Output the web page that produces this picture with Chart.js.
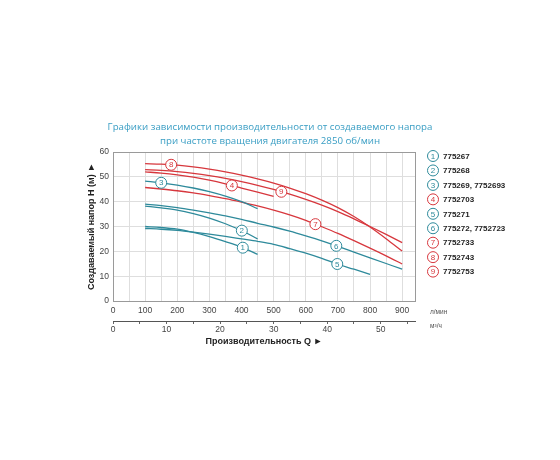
<!DOCTYPE html>
<html>
<head>
<meta charset="utf-8">
<script src="https://cdn.jsdelivr.net/npm/chart.js@4"></script>
<style>
  body { margin: 0; background: #fff; }
  #grafica { display: block; }
</style>
</head>
<body>
<canvas id="grafica" width="560" height="460"></canvas>
<script>
// Расход, л/мин (общий для всех кривых, шаг 50)
const qLmin = [100, 150, 200, 250, 300, 350, 400, 450, 500, 550, 600, 650, 700, 750, 800, 850, 900];

// Напор, м — по кривым 1..9
const h1 = [30.0, 29.6, 28.9, 27.6, 25.9, 23.9, 21.7, 18.8];
const h2 = [38.2, 37.5, 36.6, 35.2, 33.4, 31.1, 28.4, 25.0];
const h3 = [48.3, 47.6, 46.7, 45.5, 44.0, 42.2, 40.0, 37.2];
const h4 = [52.0, 51.5, 50.8, 49.9, 48.7, 47.2, 45.5, 43.8, 42.1];
const h5 = [29.2, 28.9, 28.4, 27.7, 26.9, 26.0, 25.0, 24.0, 22.8, 21.1, 19.3, 17.2, 14.8, 12.8, 10.7];
const h6 = [39.0, 38.4, 37.6, 36.6, 35.5, 34.3, 32.9, 31.3, 29.8, 28.1, 26.2, 24.2, 22.0, 19.7, 17.4, 15.1, 12.8];
const h7 = [45.7, 45.1, 44.4, 43.5, 42.4, 41.2, 39.8, 38.3, 36.6, 34.7, 32.5, 29.9, 27.2, 24.3, 21.3, 18.2, 14.9];
const h8 = [55.3, 55.1, 54.7, 54.0, 53.1, 52.0, 50.7, 49.2, 47.5, 45.5, 43.2, 40.6, 37.6, 34.0, 29.8, 25.1, 20.1];
const h9 = [52.9, 52.6, 52.1, 51.4, 50.5, 49.4, 48.1, 46.6, 44.9, 43.0, 40.9, 38.6, 36.0, 33.1, 30.0, 26.8, 23.5];

const curvas = [h1, h2, h3, h4, h5, h6, h7, h8, h9];
const numeros = ["1", "2", "3", "4", "5", "6", "7", "8", "9"];
const modelos = ["775267", "775268", "775269, 7752693", "7752703", "775271",
                 "775272, 7752723", "7752733", "7752743", "7752753"];
// расход, при котором стоит номер кривой
const etiquetaQ = [404, 401, 150, 370, 698, 695, 630, 181, 524];

// деления осей
const ticksLmin = [0, 50, 100, 150, 200, 250, 300, 350, 400, 450, 500, 550, 600, 650, 700, 750, 800, 850, 900];
const ticksM3h = [0, 5, 10, 15, 20, 25, 30, 35, 40, 45, 50, 55];

const titulo = ["Графики зависимости производительности от создаваемого напора",
                "при частоте вращения двигателя 2850 об/мин"];

const azul = "#2e8a9b";
const rojo = "#d7373d";
const colores = [azul, azul, azul, rojo, azul, azul, rojo, rojo, rojo];

const qMax = 940;

const datasets = curvas.map(function (h, i) {
  return {
    label: numeros[i],
    data: h.map(function (v, j) { return { x: qLmin[j], y: v }; }),
    borderColor: colores[i],
    borderWidth: 1.3,
    pointRadius: 0,
    fill: false,
    cubicInterpolationMode: "monotone",
  };
});

function headAt(h, q) {
  for (let j = 0; j < h.length - 1; j++) {
    if (q >= qLmin[j] && q <= qLmin[j + 1]) {
      const t = (q - qLmin[j]) / (qLmin[j + 1] - qLmin[j]);
      return h[j] + t * (h[j + 1] - h[j]);
    }
  }
  return h[h.length - 1];
}

function circulo(ctx, x, y, color, txt) {
  ctx.beginPath();
  ctx.arc(x, y, 5.5, 0, Math.PI * 2);
  ctx.fillStyle = "#fff";
  ctx.fill();
  ctx.lineWidth = 1;
  ctx.strokeStyle = color;
  ctx.stroke();
  ctx.fillStyle = color;
  ctx.font = "8px 'Liberation Sans', Arial, sans-serif";
  ctx.textAlign = "center";
  ctx.textBaseline = "middle";
  ctx.fillText(txt, x, y + 0.5);
}

const decoracion = {
  id: "decoracion",
  beforeDatasetsDraw(chart) {
    const ctx = chart.ctx;
    const a = chart.chartArea;
    ctx.save();
    ctx.strokeStyle = "#9a9a9a";
    ctx.lineWidth = 1;
    ctx.strokeRect(a.left + 0.5, a.top + 0.5, a.right - a.left, a.bottom - a.top);
    ctx.restore();
  },
  afterDatasetsDraw(chart) {
    const ctx = chart.ctx;
    const a = chart.chartArea;
    const sx = chart.scales.x;
    const sy = chart.scales.y;
    ctx.save();

    // номера на кривых
    curvas.forEach(function (h, i) {
      const q = etiquetaQ[i];
      circulo(ctx, sx.getPixelForValue(q), sy.getPixelForValue(headAt(h, q)), colores[i], numeros[i]);
    });

    // заголовок
    ctx.fillStyle = "#3a9ec4";
    ctx.font = "9.7px 'Open Sans', sans-serif";
    ctx.textAlign = "center";
    ctx.textBaseline = "middle";
    ctx.fillText(titulo[0], 270, 127);
    ctx.fillText(titulo[1], 270, 141);

    // легенда
    for (let i = 0; i < modelos.length; i++) {
      const y = a.top + 4 + i * 14.45;
      circulo(ctx, a.right + 18, y, colores[i], numeros[i]);
      ctx.fillStyle = "#222";
      ctx.font = "bold 8px 'Liberation Sans', Arial, sans-serif";
      ctx.textAlign = "left";
      ctx.textBaseline = "middle";
      ctx.fillText(modelos[i], a.right + 28, y + 0.5);
    }

    // единицы
    ctx.fillStyle = "#555";
    ctx.font = "6.5px 'Liberation Sans', Arial, sans-serif";
    ctx.textAlign = "left";
    ctx.fillText("л/мин", a.right + 15, a.bottom + 11);
    ctx.fillText("м³/ч", a.right + 15, a.bottom + 25);
    ctx.restore();
  },
};

new Chart(document.querySelector("#grafica").getContext("2d"), {
  type: "line",
  data: { datasets: datasets },
  plugins: [decoracion],
  options: {
    responsive: false,
    animation: false,
    layout: { padding: { left: 86, right: 145, top: 152, bottom: 113 } },
    plugins: { legend: { display: false }, tooltip: { enabled: false } },
    scales: {
      x: {
        type: "linear",
        min: 0,
        max: qMax,
        afterBuildTicks: function (s) { s.ticks = ticksLmin.map(function (v) { return { value: v }; }); },
        afterFit: function (s) { s.height = 20; },
        grid: { color: "#dedede", drawTicks: false },
        border: { display: false },
        ticks: {
          padding: 5,
          maxRotation: 0,
          minRotation: 0,
          autoSkip: false,
          color: "#444",
          font: { size: 8.5, family: "'Liberation Sans', Arial, sans-serif" },
          callback: function (v) { return v % 100 === 0 ? v : ""; },
        },
      },
      x2: {
        type: "linear",
        position: "bottom",
        min: 0,
        max: qMax * 0.06,
        afterBuildTicks: function (s) { s.ticks = ticksM3h.map(function (v) { return { value: v }; }); },
        afterFit: function (s) { s.height = 26; },
        grid: { drawOnChartArea: false, tickLength: 3, color: "#666" },
        border: { display: true, color: "#555", width: 1 },
        ticks: {
          padding: 1,
          maxRotation: 0,
          minRotation: 0,
          autoSkip: false,
          color: "#444",
          font: { size: 8.5, family: "'Liberation Sans', Arial, sans-serif" },
          callback: function (v) { return v % 10 === 0 ? v : ""; },
        },
        title: {
          display: true,
          text: "Производительность Q ►",
          color: "#222",
          padding: 0,
          font: { size: 9, weight: "bold", family: "'Liberation Sans', Arial, sans-serif" },
        },
      },
      y: {
        min: 0,
        max: 60,
        afterFit: function (s) { s.width = 27; },
        grid: { color: "#dedede", drawTicks: false },
        border: { display: false },
        ticks: {
          stepSize: 5,
          padding: 4,
          color: "#444",
          font: { size: 8.5, family: "'Liberation Sans', Arial, sans-serif" },
          callback: function (v) { return v % 10 === 0 ? v : ""; },
        },
        title: {
          display: true,
          text: "Создаваемый напор H (м) ►",
          color: "#222",
          padding: 0,
          font: { size: 9, weight: "bold", family: "'Liberation Sans', Arial, sans-serif" },
        },
      },
    },
  },
});
</script>
</body>
</html>
